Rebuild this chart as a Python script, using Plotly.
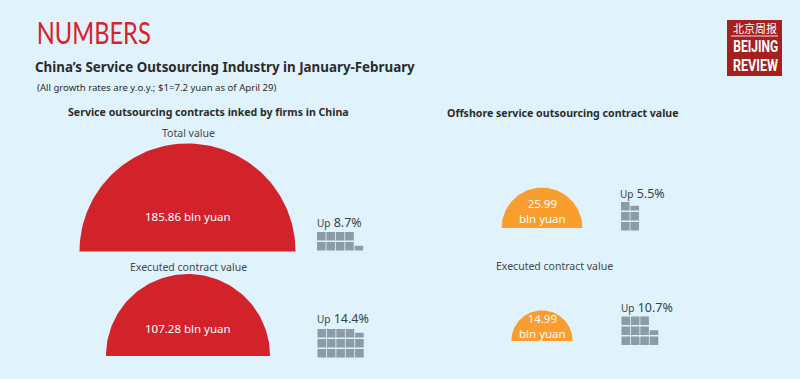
import math
import plotly.graph_objects as go

# ---------- data ----------
contract_labels = ["Total value", "Executed contract value", "", "Executed contract value"]
contract_values = [185.86, 107.28, 25.99, 14.99]
growth_values = [8.7, 14.4, 5.5, 10.7]
value_texts = ["185.86 bln yuan", "107.28 bln yuan", "25.99<br>bln yuan", "14.99<br>bln yuan"]
growth_texts = ["8.7%", "14.4%", "5.5%", "10.7%"]

# ---------- layout config (pixel-like axes) ----------
W, H = 800, 379
BG = "#E0F3FC"
RED = "#D2232B"
ORANGE = "#F99D2E"
GREY = "#8B9CA6"
DARK = "#2B2B2B"
LABEL = "#44484D"
FONT = "Noto Sans"
R_SCALE = 108 / math.sqrt(185.86)
centers = [(187.5, 251.5), (188, 356), (542, 228), (542, 341)]
fills = [RED, RED, ORANGE, ORANGE]
text_y = [216, 328, 211, 326]
grid_origin = [(317, 232), (317.5, 329), (621, 202), (621.5, 316.5)]
grid_rows = [2, 3, 3, 3]
up_pos = [(315.5, 222.5), (316, 318), (619, 193), (620, 307.5)]
label_pos = [(188, 133), (188, 267), None, (554.5, 266)]
CELL, PX, PY, PARTIAL = 8.6, 9.4, 10, 0.55

fig = go.Figure()


def semicircle(cx, base, value, color):
    r = R_SCALE * math.sqrt(value)
    n = 90
    xs = [cx + r * math.cos(math.pi * i / n) for i in range(n + 1)]
    ys = [base - r * math.sin(math.pi * i / n) for i in range(n + 1)]
    fig.add_trace(go.Scatter(x=xs, y=ys, mode="lines", fill="toself", fillcolor=color,
                             line=dict(width=0, color=color), hoverinfo="skip", showlegend=False))


def grid(x0, y0, rows, value):
    xs, ys = [], []
    whole = int(value)
    frac = value - whole
    for k in range(whole + (1 if frac else 0)):
        col, pos = divmod(k, rows)        # filled column by column, from the bottom
        size = 1 if k < whole else PARTIAL
        bottom = y0 + (rows - 1 - pos) * PY + CELL
        top = bottom - CELL * size
        left = x0 + col * PX
        xs += [left, left + CELL, left + CELL, left, left, None]
        ys += [top, top, bottom, bottom, top, None]
    fig.add_trace(go.Scatter(x=xs, y=ys, mode="lines", fill="toself", fillcolor=GREY,
                             line=dict(width=0, color=GREY), hoverinfo="skip", showlegend=False))


for i, v in enumerate(contract_values):
    semicircle(*centers[i], v, fills[i])
    grid(*grid_origin[i], grid_rows[i], growth_values[i])

anns = []


def note(x, y, text, size=10, color=DARK, anchor="center", family=FONT):
    anns.append(dict(x=x, y=y, xref="x", yref="y", text=text, showarrow=False, xanchor=anchor,
                     yanchor="middle", font=dict(size=size, color=color, family=family),
                     borderpad=0, align="center"))


note(93, 32, "NUMBERS", 31, "#D9202B", "center", "Lato")
note(33.5, 67, "<b>China’s Service Outsourcing Industry in January-February</b>", 13.35, DARK, "left")
note(36, 87, "(All growth rates are y.o.y.; $1=7.2 yuan as of April 29)", 9.6, DARK, "left")
note(208.5, 112, "<b>Service outsourcing contracts inked by firms in China</b>", 10.6)
note(563, 113, "<b>Offshore service outsourcing contract value</b>", 10.6)

for i, lab in enumerate(contract_labels):
    if lab:
        note(*label_pos[i], lab, 10.5, LABEL)
    note(centers[i][0], text_y[i], value_texts[i], 11.5, "#FFFFFF")
    x, y = up_pos[i]
    note(x, y, f'<span style="font-size:10px">Up</span> {growth_texts[i]}', 12.5, "#3A3F44", "left")

# Beijing Review badge
LOGO = (727, 20, 782, 76)
shapes = [
    dict(type="rect", xref="x", yref="y", x0=LOGO[0], y0=LOGO[1], x1=LOGO[2], y1=LOGO[3],
         fillcolor="#A6201F", line=dict(width=0), layer="below"),
    dict(type="line", xref="x", yref="y", x0=731, x1=778, y0=36, y1=36,
         line=dict(color="#F3E3E0", width=1)),
]
note(754.5, 28, "北京周报", 11, "#FFFFFF", "center", "Noto Sans CJK SC")
note(755, 46, "<b>BEIJING</b>", 17, "#FFFFFF", "center", "Roboto")
note(755, 65, "<b>REVIEW</b>", 17, "#FFFFFF", "center", "Roboto")

fig.update_layout(
    width=W, height=H, margin=dict(l=0, r=0, t=0, b=0),
    paper_bgcolor=BG, plot_bgcolor=BG, showlegend=False,
    xaxis=dict(range=[0, W], visible=False, fixedrange=True),
    yaxis=dict(range=[H, 0], visible=False, fixedrange=True),
    annotations=anns, shapes=shapes,
)

# condensed lettering: squeeze the real text, since no condensed face is installed
post = """
document.body.style.margin='0';
document.body.style.background='%s';
var widths={'NUMBERS':114,'BEIJING':45,'REVIEW':45};
document.querySelectorAll('.annotation-text').forEach(function(t){
  var w=widths[t.textContent];
  if(w){t.setAttribute('textLength',w);t.setAttribute('lengthAdjust','spacingAndGlyphs');}
});
""" % BG
fig.write_html("out.html", config={"displayModeBar": False}, post_script=post)
